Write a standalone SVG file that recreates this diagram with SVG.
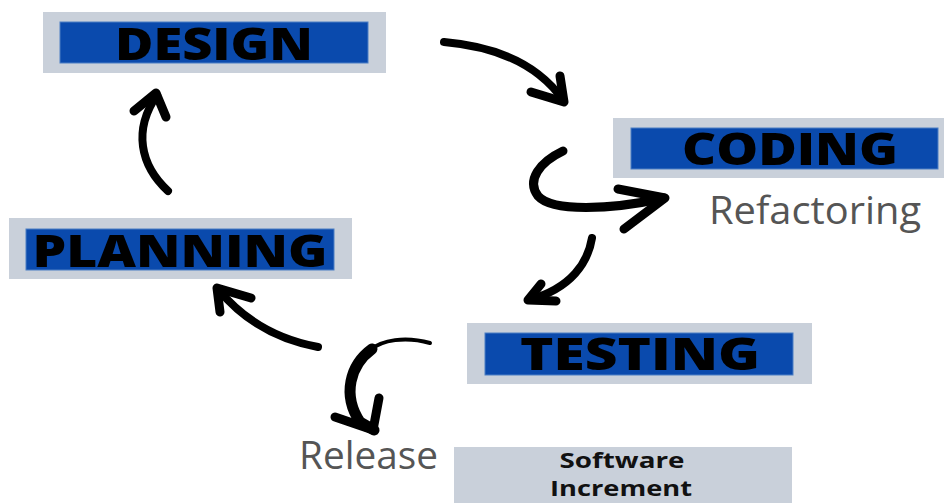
<svg xmlns="http://www.w3.org/2000/svg" width="944" height="503" viewBox="0 0 944 503">
  <style>
    .frame { fill: #c9d0da; }
    .band { fill: #0a4aad; stroke: #4d7fc4; stroke-width: 1; }
    .stage { font-family: "Open Sans", "DejaVu Sans", sans-serif; font-weight: 800; font-size: 45px; fill: #000; text-anchor: middle; }
    .note { font-family: "Open Sans", "DejaVu Sans", sans-serif; font-weight: 400; font-size: 38px; fill: #555; }
    .inc { font-family: "Open Sans", "DejaVu Sans", sans-serif; font-weight: 700; font-size: 22px; fill: #111; text-anchor: middle; }
    .shaft { fill: none; stroke: #000; stroke-linecap: round; stroke-linejoin: round; }
    .head { fill: none; stroke: #000; stroke-width: 9; stroke-linecap: round; stroke-linejoin: round; }
  </style>

  <rect width="944" height="503" fill="#fff"/>

  <g id="design">
    <rect class="frame" x="43" y="12" width="343" height="61"/>
    <rect class="band" x="60" y="22" width="308" height="41"/>
    <text class="stage" x="214" y="60" textLength="198" lengthAdjust="spacingAndGlyphs">DESIGN</text>
  </g>

  <g id="coding">
    <rect class="frame" x="613" y="118" width="331" height="60"/>
    <rect class="band" x="631" y="128" width="307" height="41"/>
    <text class="stage" x="790" y="165" textLength="216" lengthAdjust="spacingAndGlyphs">CODING</text>
    <text class="note" x="709" y="224" textLength="212" lengthAdjust="spacingAndGlyphs">Refactoring</text>
  </g>

  <g id="planning">
    <rect class="frame" x="9" y="218" width="343" height="61"/>
    <rect class="band" x="26" y="229" width="308" height="41"/>
    <text class="stage" x="180" y="267" textLength="295" lengthAdjust="spacingAndGlyphs">PLANNING</text>
  </g>

  <g id="testing">
    <rect class="frame" x="467" y="323" width="345" height="61"/>
    <rect class="band" x="485" y="333" width="308" height="42"/>
    <text class="stage" x="640" y="370" textLength="240" lengthAdjust="spacingAndGlyphs">TESTING</text>
  </g>

  <g id="release">
    <text class="note" x="299" y="469" textLength="139" lengthAdjust="spacingAndGlyphs">Release</text>
  </g>

  <g id="increment">
    <rect class="frame" x="454" y="447" width="338" height="56"/>
    <text class="inc" x="622" y="468" textLength="125" lengthAdjust="spacingAndGlyphs">Software</text>
    <text class="inc" x="621" y="496" textLength="142" lengthAdjust="spacingAndGlyphs">Increment</text>
  </g>

  <g id="connectors">
    <!-- design to coding -->
    <path class="shaft" stroke-width="8" d="M444 42 C490 46 535 60 563 100"/>
    <path class="head" d="M531 92 L564 102 L560 76"/>

    <!-- refactoring loop on coding -->
    <path class="shaft" stroke-width="9" d="M563 151 C540 162 526 180 538 196 C552 212 610 210 664 198"/>
    <path class="head" d="M618 189 L665 198 L624 229"/>

    <!-- coding to testing -->
    <path class="shaft" stroke-width="8" d="M592 238 C588 262 572 288 529 300"/>
    <path class="head" d="M541 284 L528 300 L556 301"/>

    <!-- testing to planning -->
    <path class="shaft" stroke-width="8" d="M318 347 C280 340 245 322 218 289"/>
    <path class="head" d="M220 312 L217 288 L251 298"/>

    <!-- planning to design -->
    <path class="shaft" stroke-width="8" d="M168 191 C140 165 133 130 157 95"/>
    <path class="head" d="M134 111 L156 93 L166 117"/>

    <!-- testing to release -->
    <path class="shaft" stroke-width="4" d="M430 343 C405 336 382 340 370 350"/>
    <path class="shaft" stroke-width="11" d="M372 349 C350 365 342 395 360 422 L374 430"/>
    <path class="head" d="M335 417 L373 430 L379 398"/>
  </g>
</svg>
